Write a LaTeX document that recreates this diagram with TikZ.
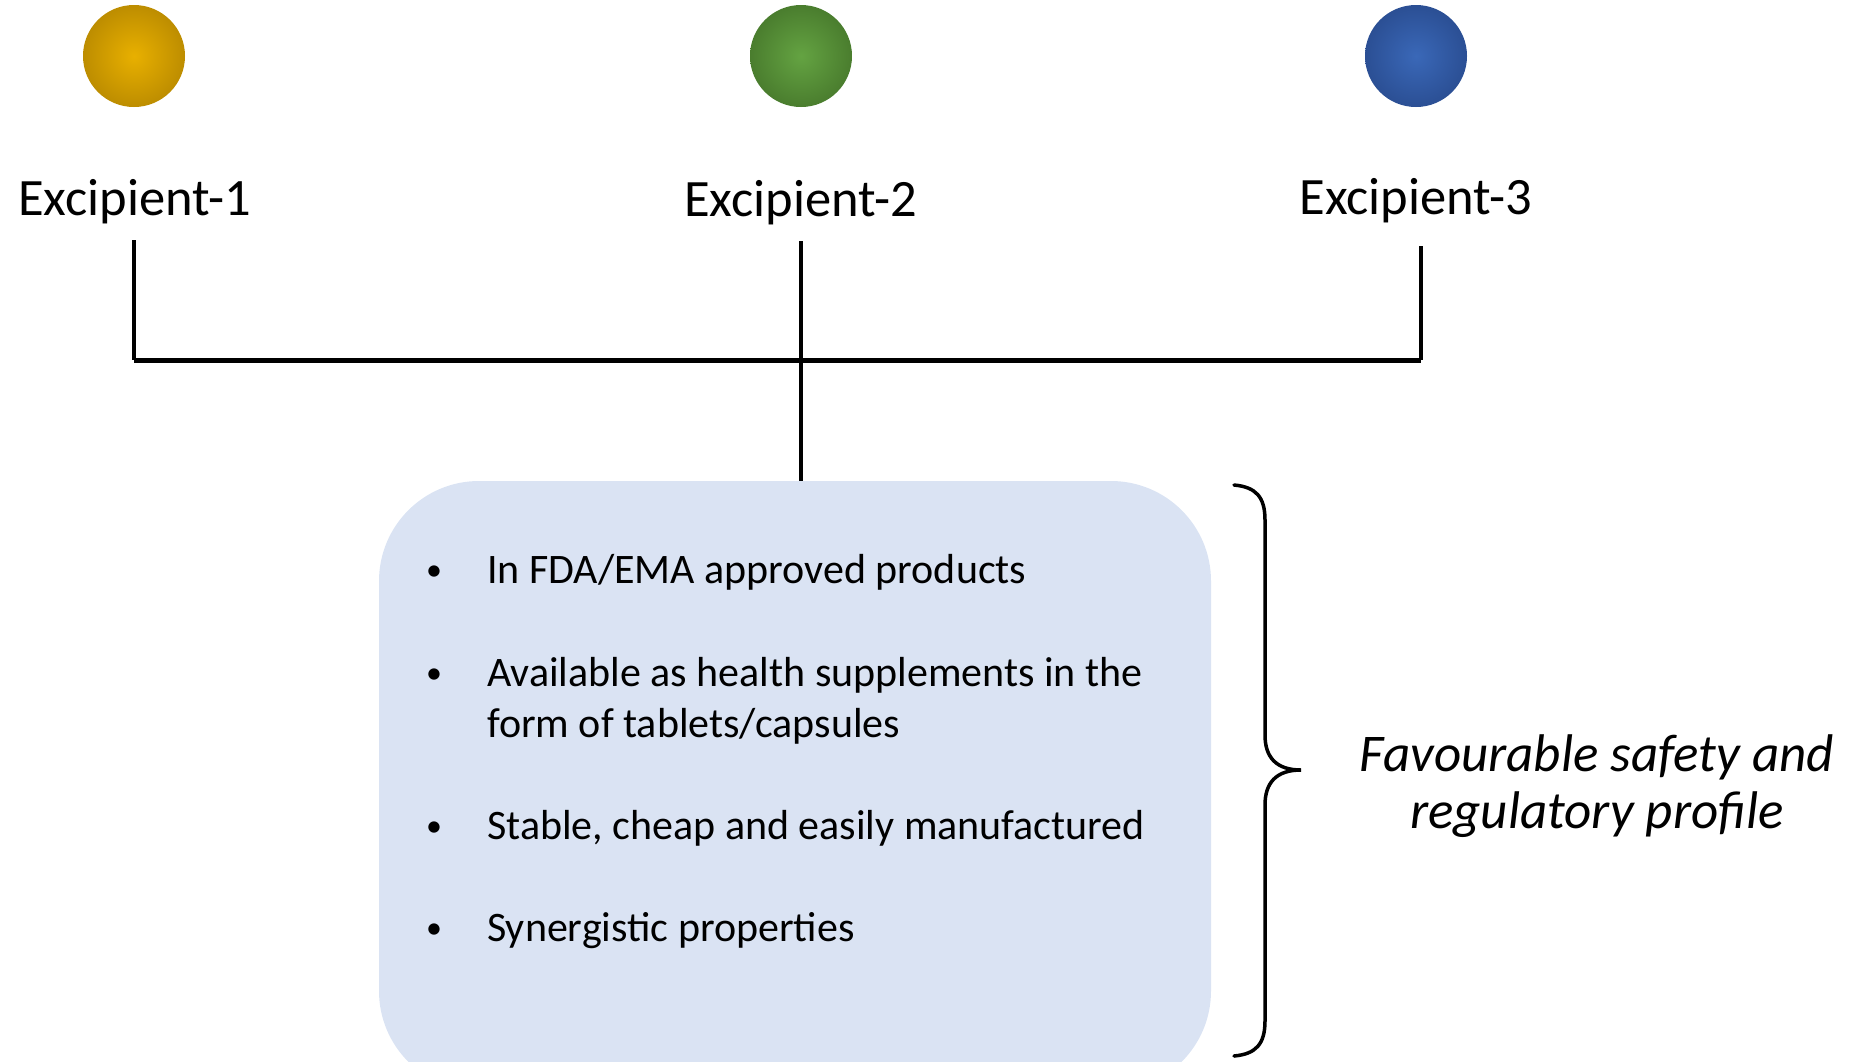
\documentclass[tikz,border=0pt]{standalone}
\usepackage{fontspec}
\setmainfont{Carlito}
\usetikzlibrary{positioning}
\definecolor{boxfill}{HTML}{DAE3F3}
\definecolor{goldin}{HTML}{E8B000}
\definecolor{goldout}{HTML}{BD8D00}
\definecolor{greenin}{HTML}{64A342}
\definecolor{greenout}{HTML}{4A7D2E}
\definecolor{bluein}{HTML}{3A68B8}
\definecolor{blueout}{HTML}{2B4F94}
\tikzset{
  x=1pt, y=-1pt,
  dot/.style={circle, minimum size=102pt, inner sep=0pt, shading=radial},
  exlabel/.style={font=\fontsize{52.5}{60}\selectfont, anchor=base, inner sep=0pt},
  bul/.style={font=\fontsize{32}{40}\selectfont, anchor=base, inner sep=0pt},
  itemtext/.style={font=\fontsize{42}{51}\selectfont, anchor=base west, inner sep=0pt, align=left},
  conn/.style={line width=3.5pt},
  bar/.style={line width=5pt},
}
\begin{document}
\begin{tikzpicture}
\useasboundingbox (0,0) rectangle (1861,1061);
\clip (0,0) rectangle (1861,1061);
% circles
\node[dot, inner color=goldin, outer color=goldout] (c1) at (134,56) {};
\node[dot, inner color=greenin, outer color=greenout] (c2) at (801,56) {};
\node[dot, inner color=bluein, outer color=blueout] (c3) at (1416,56) {};
% labels
\node[exlabel] (e1) at (134.5,215) {Excipient-1};
\node[exlabel] (e2) at (800.5,216) {Excipient-2};
\node[exlabel] (e3) at (1416,214) {Excipient-3};
% box
\node[rectangle, rounded corners=100pt, fill=boxfill, minimum width=832pt, minimum height=610pt, inner sep=0pt] (box) at (795,786) {};
% connector coordinates
\coordinate (t1) at (134,240);
\coordinate (t2) at (801,241);
\coordinate (t3) at (1421,246);
\coordinate (j1) at (134,360);
\coordinate (j2) at (801,360);
\coordinate (j3) at (1421,360);
\draw[conn] (t1) -- (j1);
\draw[conn] (t3) -- (j3);
\draw[conn] (t2) -- (box.north -| t2);
\draw[bar] (j1) -- (j3);
% bullets
\node[bul] (b1) at (434,580) {•};
\node[itemtext] (i1) at (487,583) {In FDA/EMA approved products};
\node[bul] (b2) at (434,683) {•};
\node[itemtext] (i2) at (487,737) {Available as health supplements in the\\form of tablets/capsules};
\node[bul] (b3) at (434,836) {•};
\node[itemtext] (i3) at (487,839) {Stable, cheap and easily manufactured};
\node[bul] (b4) at (434,938) {•};
\node[itemtext] (i4) at (487,941) {Synergistic properties};
% brace
\coordinate (br) at (1301,770);
\draw[line width=3.5pt, line cap=round]
  (1234,485) .. controls (1256,487) and (1265,497) .. (1265,520)
  -- (1265,735) .. controls (1265,757) and (1276,770) .. (br)
  .. controls (1276,770) and (1265,783) .. (1265,805)
  -- (1265,1021) .. controls (1265,1044) and (1256,1054) .. (1234,1056);
% side text
\node[font=\fontsize{53}{57}\selectfont\itshape, anchor=base, align=center, inner sep=0pt] (fav) at (1597,828) {Favourable safety and\\regulatory profile};
\end{tikzpicture}
\end{document}
